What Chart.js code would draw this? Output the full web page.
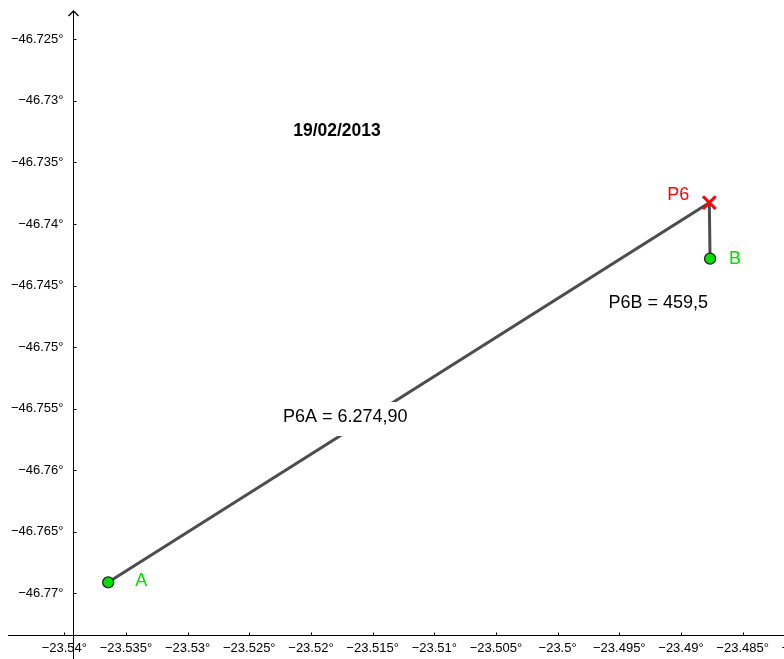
<!DOCTYPE html>
<html>
<head>
<meta charset="utf-8">
<script src="https://cdn.jsdelivr.net/npm/chart.js@4.4.0/dist/chart.umd.min.js"></script>
<style>
  html, body { margin: 0; padding: 0; background: #fff; }
  #wrap { width: 784px; height: 659px; position: relative; }
</style>
</head>
<body>
<div id="wrap"><canvas id="plot"></canvas></div>
<script>
// points: A -> P6 -> B
const pointNames = ['A', 'P6', 'B'];
const pointX = [-23.53644, -23.48770, -23.48764];
const pointY = [-46.76911, -46.73827, -46.74282];

// axis ticks
const xTickValues = [-23.54, -23.535, -23.53, -23.525, -23.52, -23.515, -23.51, -23.505, -23.5, -23.495, -23.49, -23.485, -23.48];
const yTickValues = [-46.77, -46.765, -46.76, -46.755, -46.75, -46.745, -46.74, -46.735, -46.73, -46.725];

// texts on the plot
const chartTitle = '19/02/2013';
const distanceLabels = ['P6A = 6.274,90', 'P6B = 459,5'];

// view window and where the axes cross
const view = { xMin: -23.545214, xMax: -23.481644, yMin: -46.775337, yMax: -46.721807 };
const axisCross = { x: -23.53927, y: -46.773428 };

const FONT = '"Liberation Sans", Arial, sans-serif';
const GREEN = '#00e000';
const RED = '#ff0000';

function degLabel(v) {
  const s = String(Math.abs(v));
  return (v < 0 ? '\u2212' : '') + s + '\u00b0';
}

// GeoGebra style axes (drawn from the chart's own scales), point names, text boxes
const geoPlugin = {
  id: 'geo',
  beforeDatasetsDraw(chart) {
    const { ctx } = chart;
    const xs = chart.scales.x, ys = chart.scales.y;
    const ax = Math.round(xs.getPixelForValue(axisCross.x)) + 0.5;
    const ay = Math.round(ys.getPixelForValue(axisCross.y)) + 0.5;
    ctx.save();
    ctx.strokeStyle = '#000';
    ctx.lineWidth = 1;
    ctx.beginPath();
    ctx.moveTo(8, ay); ctx.lineTo(chart.width, ay);
    ctx.moveTo(ax, 11); ctx.lineTo(ax, chart.height);
    // tick marks
    xTickValues.forEach(v => {
      const x = Math.round(xs.getPixelForValue(v)) + 0.5;
      ctx.moveTo(x, ay); ctx.lineTo(x, ay - 3);
    });
    yTickValues.forEach(v => {
      const y = Math.round(ys.getPixelForValue(v)) + 0.5;
      ctx.moveTo(ax, y); ctx.lineTo(ax + 3, y);
    });
    ctx.stroke();
    // arrow on top of y axis
    ctx.lineWidth = 1.3;
    ctx.beginPath();
    ctx.moveTo(ax - 5, 16); ctx.lineTo(ax, 11); ctx.lineTo(ax + 5, 16);
    ctx.stroke();

    // tick labels
    ctx.fillStyle = '#000';
    ctx.font = '13px ' + FONT;
    ctx.textBaseline = 'middle';
    ctx.textAlign = 'center';
    xTickValues.forEach(v => {
      ctx.fillText(degLabel(v), xs.getPixelForValue(v), ay + 13);
    });
    ctx.textAlign = 'right';
    yTickValues.forEach(v => {
      ctx.fillText(degLabel(v), ax - 10, ys.getPixelForValue(v));
    });
    ctx.restore();
  },
  afterDatasetsDraw(chart) {
    const { ctx } = chart;
    const xs = chart.scales.x, ys = chart.scales.y;
    const px = v => xs.getPixelForValue(v);
    const py = v => ys.getPixelForValue(v);
    ctx.save();
    ctx.textAlign = 'center';
    ctx.textBaseline = 'middle';

    // title
    ctx.font = 'bold 17.5px ' + FONT;
    ctx.fillStyle = '#000';
    ctx.fillText(chartTitle, px(-23.51789), py(-46.73245));

    // distance labels with white boxes
    ctx.font = '18px ' + FONT;
    const boxes = [
      { text: distanceLabels[0], x: px(-23.51722), y: py(-46.75560) },
      { text: distanceLabels[1], x: px(-23.49184), y: py(-46.74636) }
    ];
    boxes.forEach(b => {
      const w = ctx.measureText(b.text).width;
      ctx.fillStyle = '#fff';
      ctx.fillRect(b.x - w / 2 - 6, b.y - 14, w + 12, 34);
      ctx.fillStyle = '#000';
      ctx.fillText(b.text, b.x, b.y + 1);
    });

    // point names
    const offsets = [[33, -1], [-31, -8], [25, 0]];
    const colors = [GREEN, RED, GREEN];
    pointNames.forEach((n, i) => {
      ctx.fillStyle = colors[i];
      ctx.fillText(n, px(pointX[i]) + offsets[i][0], py(pointY[i]) + offsets[i][1]);
    });
    ctx.restore();
  }
};

const ctx = document.getElementById('plot').getContext('2d');
new Chart(ctx, {
  type: 'scatter',
  data: {
    datasets: [{
      data: pointX.map((x, i) => ({ x: x, y: pointY[i] })),
      showLine: true,
      borderColor: '#4d4d4d',
      borderWidth: 3,
      pointStyle: ['circle', 'crossRot', 'circle'],
      pointRadius: [5.5, 9, 5.5],
      pointHoverRadius: [5.5, 9, 5.5],
      pointBackgroundColor: [GREEN, RED, GREEN],
      pointBorderColor: ['#222', RED, '#222'],
      pointBorderWidth: [1.3, 3, 1.3],
      clip: false
    }]
  },
  options: {
    responsive: true,
    maintainAspectRatio: false,
    animation: false,
    layout: { padding: 0, autoPadding: false },
    plugins: { legend: { display: false }, tooltip: { enabled: false } },
    scales: {
      x: { type: 'linear', display: false, min: view.xMin, max: view.xMax },
      y: { type: 'linear', display: false, min: view.yMin, max: view.yMax }
    }
  },
  plugins: [geoPlugin]
});
</script>
</body>
</html>
